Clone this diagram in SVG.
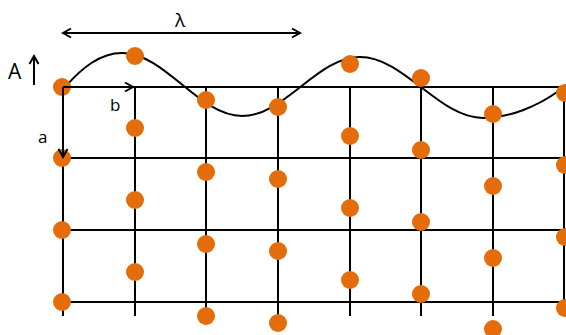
<svg xmlns="http://www.w3.org/2000/svg" width="566" height="335" viewBox="0 0 566 335">
<style>
.g{stroke:#000;stroke-width:2;fill:none}
.d{fill:#E46C0A}
.t{font-family:"Open Sans","Liberation Sans",sans-serif;fill:#000}
</style>
<defs>
<marker id="ah" markerUnits="userSpaceOnUse" markerWidth="12" markerHeight="12" refX="9" refY="5" orient="auto-start-reverse" viewBox="0 0 12 10">
<path d="M1,0.5 L9,5 L1,9.5" fill="none" stroke="#000" stroke-width="2"/>
</marker>
</defs>
<g id="grid" class="g">
<path d="M63,87H566M63,158H566M63,230H566M63,302H566"/>
<path d="M63,87V316M135,87V316M206,87V316M278,87V316M350,87V316M421,87V316M493,87V316M564,87V302"/>
</g>
<g id="wave-g" class="g">
<path id="wave" d="M66,86 C82,68 100,53 122,53 C165,53 199,116 242,116 C285,116 317,57 360,57 C404,57 439,118 483,118 C510,118 538,106 560,90"/>
</g>
<g id="dots" class="d">
<circle cx="62" cy="87" r="9"/><circle cx="62" cy="158" r="9"/><circle cx="62" cy="230" r="9"/><circle cx="62" cy="302" r="9"/>
<circle cx="135" cy="56" r="9"/><circle cx="135" cy="128" r="9"/><circle cx="135" cy="200" r="9"/><circle cx="135" cy="272" r="9"/>
<circle cx="206" cy="100" r="9"/><circle cx="206" cy="172" r="9"/><circle cx="206" cy="244" r="9"/><circle cx="206" cy="316" r="9"/>
<circle cx="278" cy="107" r="9"/><circle cx="278" cy="179" r="9"/><circle cx="278" cy="251" r="9"/><circle cx="278" cy="323" r="9"/>
<circle cx="350" cy="64" r="9"/><circle cx="350" cy="136" r="9"/><circle cx="350" cy="208" r="9"/><circle cx="350" cy="280" r="9"/>
<circle cx="421" cy="78" r="9"/><circle cx="421" cy="150" r="9"/><circle cx="421" cy="222" r="9"/><circle cx="421" cy="294" r="9"/>
<circle cx="493" cy="114" r="9"/><circle cx="493" cy="186" r="9"/><circle cx="493" cy="258" r="9"/><circle cx="493" cy="329" r="9"/>
<circle cx="565" cy="93" r="9"/><circle cx="565" cy="165" r="9"/><circle cx="565" cy="237" r="9"/><circle cx="565" cy="308" r="9"/>
</g>
<g id="connectors" class="g">
<line x1="63" y1="33" x2="300" y2="33" marker-start="url(#ah)" marker-end="url(#ah)"/>
<line x1="34" y1="85" x2="34" y2="56" marker-end="url(#ah)"/>
<line x1="63" y1="87" x2="133" y2="87" marker-end="url(#ah)"/>
<line x1="63" y1="87" x2="63" y2="157" marker-end="url(#ah)"/>
</g>
<g id="labels">
<text class="t" x="175" y="27" font-size="19">λ</text>
<text class="t" x="8" y="79" font-size="21">A</text>
<text class="t" x="110" y="111" font-size="17">b</text>
<text class="t" x="38" y="143" font-size="17">a</text>
</g>
</svg>
